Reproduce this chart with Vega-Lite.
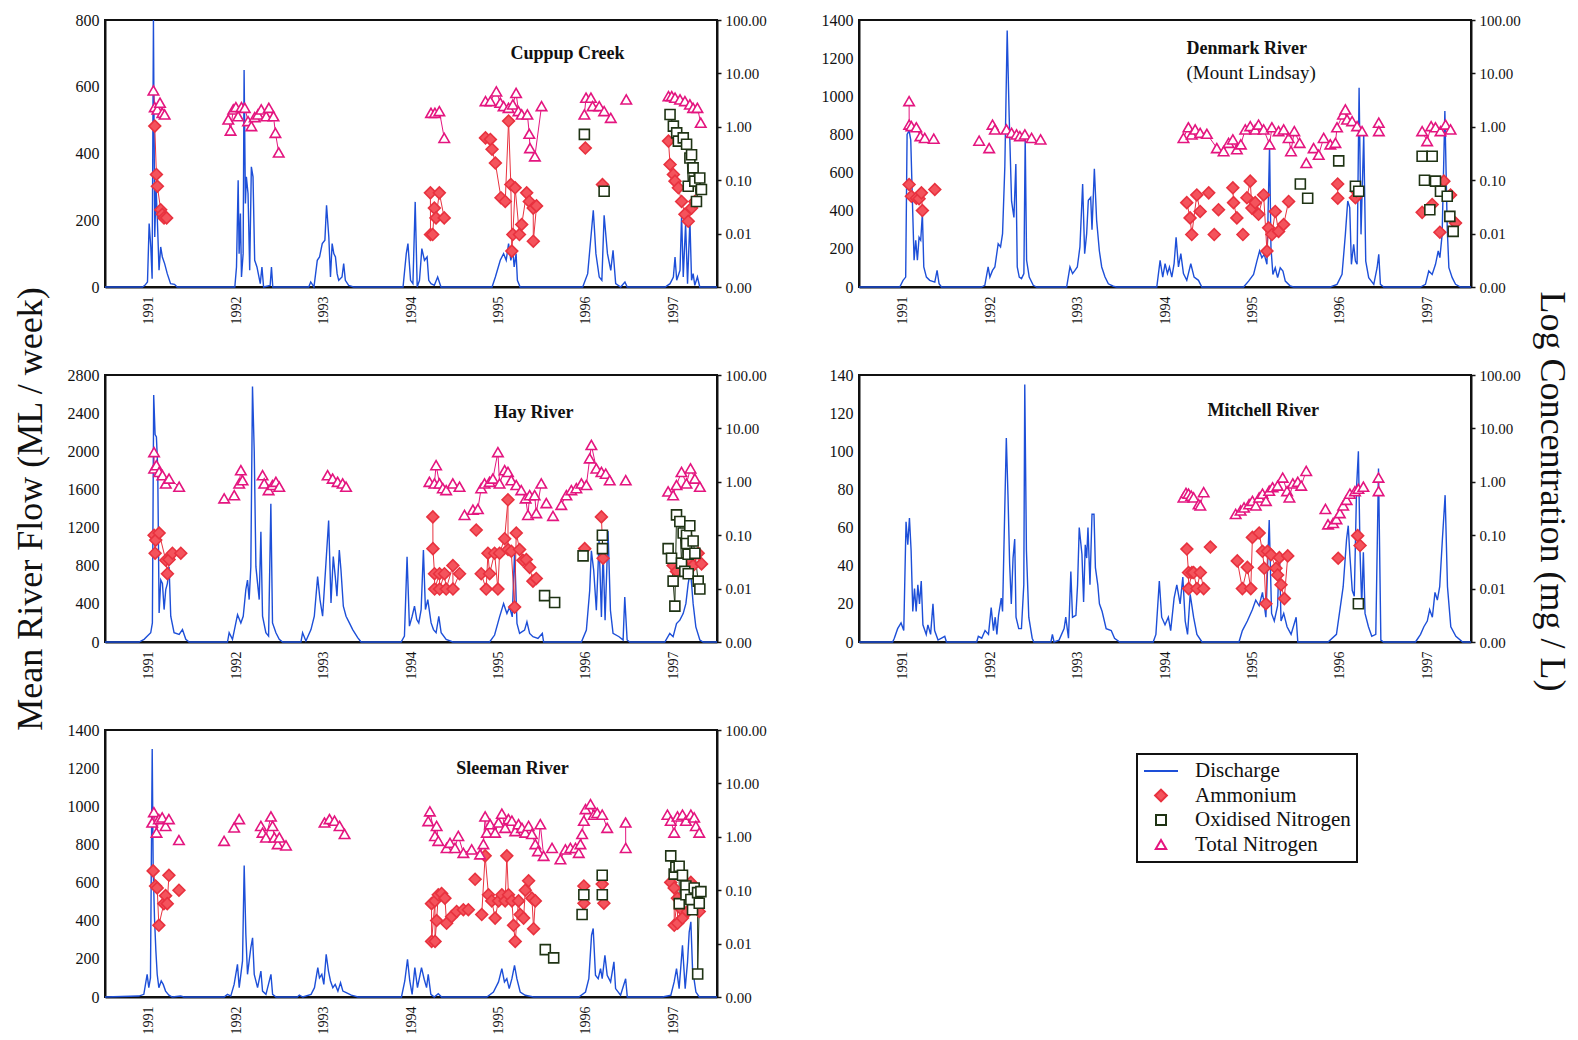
{
  "$schema": "https://vega.github.io/schema/vega-lite/v6.json",
  "background": "white",
  "padding": {"left": 10, "top": 11, "right": 0, "bottom": 0},
  "columns": 2,
  "bounds": "flush",
  "spacing": {"row": 88, "column": 142},
  "datasets": {
    "flowC": [
      {"t":1991,"q":0},{"t":1991.429,"q":0},{"t":1991.456,"q":5},{"t":1991.486,"q":15},{"t":1991.505,"q":190},{"t":1991.524,"q":120},{"t":1991.539,"q":25},{"t":1991.554,"q":800},{"t":1991.569,"q":150},{"t":1991.584,"q":300},{"t":1991.599,"q":200},{"t":1991.618,"q":50},{"t":1991.637,"q":120},{"t":1991.656,"q":90},{"t":1991.682,"q":70},{"t":1991.712,"q":40},{"t":1991.75,"q":10},{"t":1991.795,"q":8},{"t":1991.825,"q":0},
      {"t":1992.485,"q":0},{"t":1992.504,"q":60},{"t":1992.523,"q":320},{"t":1992.534,"q":100},{"t":1992.549,"q":220},{"t":1992.561,"q":30},{"t":1992.58,"q":100},{"t":1992.591,"q":650},{"t":1992.606,"q":250},{"t":1992.617,"q":330},{"t":1992.636,"q":280},{"t":1992.655,"q":50},{"t":1992.674,"q":360},{"t":1992.693,"q":330},{"t":1992.712,"q":80},{"t":1992.738,"q":60},{"t":1992.776,"q":10},{"t":1992.795,"q":60},{"t":1992.814,"q":0},{"t":1992.889,"q":5},{"t":1992.904,"q":60},{"t":1992.919,"q":0},
      {"t":1993.33,"q":0},{"t":1993.353,"q":15},{"t":1993.39,"q":0},{"t":1993.428,"q":80},{"t":1993.454,"q":90},{"t":1993.485,"q":130},{"t":1993.515,"q":140},{"t":1993.534,"q":245},{"t":1993.56,"q":150},{"t":1993.579,"q":30},{"t":1993.598,"q":130},{"t":1993.617,"q":100},{"t":1993.636,"q":90},{"t":1993.655,"q":40},{"t":1993.673,"q":20},{"t":1993.711,"q":30},{"t":1993.73,"q":70},{"t":1993.749,"q":20},{"t":1993.787,"q":5},{"t":1993.843,"q":0},
      {"t":1994.409,"q":0},{"t":1994.446,"q":100},{"t":1994.465,"q":130},{"t":1994.495,"q":20},{"t":1994.522,"q":10},{"t":1994.548,"q":255},{"t":1994.571,"q":0},{"t":1994.597,"q":20},{"t":1994.624,"q":115},{"t":1994.654,"q":80},{"t":1994.684,"q":90},{"t":1994.703,"q":20},{"t":1994.729,"q":10},{"t":1994.767,"q":5},{"t":1994.805,"q":30},{"t":1994.843,"q":0},
      {"t":1995.427,"q":0},{"t":1995.465,"q":30},{"t":1995.521,"q":80},{"t":1995.559,"q":100},{"t":1995.589,"q":80},{"t":1995.616,"q":130},{"t":1995.642,"q":80},{"t":1995.665,"q":110},{"t":1995.68,"q":60},{"t":1995.702,"q":100},{"t":1995.717,"q":20},{"t":1995.748,"q":0},
      {"t":1996.464,"q":0},{"t":1996.521,"q":40},{"t":1996.558,"q":150},{"t":1996.585,"q":230},{"t":1996.615,"q":100},{"t":1996.653,"q":30},{"t":1996.683,"q":20},{"t":1996.709,"q":215},{"t":1996.747,"q":100},{"t":1996.785,"q":50},{"t":1996.811,"q":110},{"t":1996.841,"q":10},{"t":1996.898,"q":0},{"t":1996.947,"q":15},{"t":1996.973,"q":0},
      {"t":1997.407,"q":0},{"t":1997.463,"q":10},{"t":1997.501,"q":30},{"t":1997.52,"q":90},{"t":1997.539,"q":20},{"t":1997.577,"q":50},{"t":1997.595,"q":215},{"t":1997.614,"q":30},{"t":1997.641,"q":190},{"t":1997.663,"q":10},{"t":1997.69,"q":200},{"t":1997.709,"q":20},{"t":1997.727,"q":40},{"t":1997.746,"q":5},{"t":1997.776,"q":30},{"t":1997.803,"q":0},{"t":1998,"q":0}
    ],
    "flowD": [
      {"t":1991,"q":0},{"t":1991.466,"q":0},{"t":1991.504,"q":35},{"t":1991.534,"q":52},{"t":1991.55,"q":800},{"t":1991.573,"q":820},{"t":1991.592,"q":770},{"t":1991.611,"q":450},{"t":1991.63,"q":140},{"t":1991.649,"q":245},{"t":1991.668,"q":140},{"t":1991.687,"q":260},{"t":1991.706,"q":245},{"t":1991.725,"q":385},{"t":1991.741,"q":105},{"t":1991.771,"q":52},{"t":1991.809,"q":35},{"t":1991.867,"q":26},{"t":1991.893,"q":87},{"t":1991.916,"q":17},{"t":1991.943,"q":0},
      {"t":1992.401,"q":0},{"t":1992.439,"q":9},{"t":1992.477,"q":105},{"t":1992.497,"q":52},{"t":1992.527,"q":87},{"t":1992.554,"q":105},{"t":1992.592,"q":227},{"t":1992.619,"q":210},{"t":1992.642,"q":280},{"t":1992.668,"q":630},{"t":1992.695,"q":1345},{"t":1992.718,"q":890},{"t":1992.745,"q":450},{"t":1992.772,"q":365},{"t":1992.794,"q":645},{"t":1992.81,"q":105},{"t":1992.833,"q":52},{"t":1992.859,"q":44},{"t":1992.886,"q":70},{"t":1992.901,"q":785},{"t":1992.917,"q":140},{"t":1992.947,"q":52},{"t":1992.993,"q":9},{"t":1993.031,"q":0},
      {"t":1993.375,"q":0},{"t":1993.413,"q":105},{"t":1993.443,"q":70},{"t":1993.47,"q":87},{"t":1993.497,"q":105},{"t":1993.527,"q":210},{"t":1993.558,"q":540},{"t":1993.581,"q":175},{"t":1993.604,"q":280},{"t":1993.623,"q":455},{"t":1993.65,"q":470},{"t":1993.665,"q":300},{"t":1993.692,"q":620},{"t":1993.718,"q":350},{"t":1993.749,"q":190},{"t":1993.776,"q":105},{"t":1993.814,"q":52},{"t":1993.852,"q":17},{"t":1993.909,"q":4},{"t":1993.947,"q":0},
      {"t":1994.406,"q":0},{"t":1994.444,"q":140},{"t":1994.474,"q":52},{"t":1994.501,"q":122},{"t":1994.528,"q":70},{"t":1994.551,"q":105},{"t":1994.578,"q":52},{"t":1994.604,"q":122},{"t":1994.627,"q":260},{"t":1994.654,"q":105},{"t":1994.681,"q":175},{"t":1994.711,"q":70},{"t":1994.749,"q":35},{"t":1994.795,"q":122},{"t":1994.833,"q":52},{"t":1994.883,"q":35},{"t":1994.921,"q":0},
      {"t":1995.399,"q":0},{"t":1995.456,"q":31},{"t":1995.513,"q":66},{"t":1995.551,"q":136},{"t":1995.582,"q":189},{"t":1995.608,"q":154},{"t":1995.635,"q":171},{"t":1995.666,"q":119},{"t":1995.696,"q":740},{"t":1995.712,"q":206},{"t":1995.734,"q":66},{"t":1995.761,"q":101},{"t":1995.788,"q":49},{"t":1995.818,"q":101},{"t":1995.849,"q":84},{"t":1995.876,"q":31},{"t":1995.933,"q":5},{"t":1995.971,"q":0},
      {"t":1996.391,"q":0},{"t":1996.468,"q":14},{"t":1996.525,"q":66},{"t":1996.563,"q":276},{"t":1996.59,"q":451},{"t":1996.613,"q":416},{"t":1996.632,"q":119},{"t":1996.658,"q":224},{"t":1996.678,"q":136},{"t":1996.697,"q":119},{"t":1996.72,"q":1045},{"t":1996.742,"q":276},{"t":1996.773,"q":800},{"t":1996.796,"q":136},{"t":1996.83,"q":49},{"t":1996.888,"q":14},{"t":1996.926,"q":101},{"t":1996.945,"q":171},{"t":1996.964,"q":14},{"t":1997.002,"q":0},
      {"t":1997.422,"q":0},{"t":1997.479,"q":14},{"t":1997.517,"q":84},{"t":1997.556,"q":66},{"t":1997.594,"q":119},{"t":1997.625,"q":189},{"t":1997.644,"q":154},{"t":1997.67,"q":276},{"t":1997.701,"q":923},{"t":1997.728,"q":311},{"t":1997.747,"q":101},{"t":1997.785,"q":49},{"t":1997.823,"q":14},{"t":1997.88,"q":0},{"t":1998,"q":0}
    ],
    "flowH": [
      {"t":1991,"q":0},{"t":1991.389,"q":0},{"t":1991.447,"q":28},{"t":1991.485,"q":62},{"t":1991.523,"q":97},{"t":1991.542,"q":200},{"t":1991.557,"q":2590},{"t":1991.573,"q":2175},{"t":1991.588,"q":2150},{"t":1991.603,"q":1830},{"t":1991.619,"q":305},{"t":1991.638,"q":650},{"t":1991.657,"q":615},{"t":1991.676,"q":340},{"t":1991.695,"q":550},{"t":1991.714,"q":615},{"t":1991.733,"q":790},{"t":1991.752,"q":270},{"t":1991.79,"q":97},{"t":1991.848,"q":80},{"t":1991.886,"q":130},{"t":1991.924,"q":28},{"t":1991.962,"q":0},
      {"t":1992.401,"q":0},{"t":1992.42,"q":97},{"t":1992.458,"q":28},{"t":1992.516,"q":287},{"t":1992.554,"q":200},{"t":1992.581,"q":270},{"t":1992.611,"q":550},{"t":1992.63,"q":650},{"t":1992.649,"q":445},{"t":1992.668,"q":790},{"t":1992.687,"q":2680},{"t":1992.707,"q":2000},{"t":1992.726,"q":790},{"t":1992.745,"q":615},{"t":1992.764,"q":445},{"t":1992.783,"q":1155},{"t":1992.802,"q":270},{"t":1992.84,"q":97},{"t":1992.871,"q":62},{"t":1992.897,"q":1450},{"t":1992.916,"q":200},{"t":1992.955,"q":97},{"t":1992.993,"q":28},{"t":1993.031,"q":0},
      {"t":1993.241,"q":0},{"t":1993.26,"q":97},{"t":1993.298,"q":10},{"t":1993.356,"q":130},{"t":1993.394,"q":270},{"t":1993.432,"q":685},{"t":1993.459,"q":445},{"t":1993.489,"q":270},{"t":1993.527,"q":825},{"t":1993.558,"q":1275},{"t":1993.585,"q":410},{"t":1993.611,"q":895},{"t":1993.634,"q":685},{"t":1993.653,"q":480},{"t":1993.68,"q":965},{"t":1993.699,"q":755},{"t":1993.726,"q":375},{"t":1993.757,"q":270},{"t":1993.795,"q":200},{"t":1993.833,"q":130},{"t":1993.89,"q":45},{"t":1993.929,"q":0},
      {"t":1994.387,"q":0},{"t":1994.425,"q":62},{"t":1994.455,"q":895},{"t":1994.482,"q":166},{"t":1994.513,"q":270},{"t":1994.54,"q":375},{"t":1994.566,"q":235},{"t":1994.589,"q":200},{"t":1994.616,"q":340},{"t":1994.642,"q":965},{"t":1994.665,"q":340},{"t":1994.692,"q":445},{"t":1994.73,"q":200},{"t":1994.757,"q":130},{"t":1994.787,"q":97},{"t":1994.818,"q":270},{"t":1994.845,"q":97},{"t":1994.902,"q":28},{"t":1994.978,"q":0},
      {"t":1995.399,"q":0},{"t":1995.456,"q":73},{"t":1995.513,"q":263},{"t":1995.559,"q":402},{"t":1995.597,"q":298},{"t":1995.628,"q":367},{"t":1995.658,"q":263},{"t":1995.685,"q":956},{"t":1995.712,"q":194},{"t":1995.742,"q":90},{"t":1995.799,"q":125},{"t":1995.826,"q":211},{"t":1995.857,"q":90},{"t":1995.895,"q":55},{"t":1995.952,"q":38},{"t":1996.002,"q":90},{"t":1996.017,"q":0},
      {"t":1996.449,"q":0},{"t":1996.506,"q":125},{"t":1996.544,"q":540},{"t":1996.563,"q":956},{"t":1996.59,"q":748},{"t":1996.62,"q":333},{"t":1996.651,"q":1060},{"t":1996.678,"q":263},{"t":1996.697,"q":956},{"t":1996.72,"q":229},{"t":1996.754,"q":1164},{"t":1996.781,"q":333},{"t":1996.811,"q":90},{"t":1996.88,"q":55},{"t":1996.926,"q":20},{"t":1996.945,"q":471},{"t":1996.972,"q":21},{"t":1997.002,"q":0},
      {"t":1997.403,"q":0},{"t":1997.46,"q":90},{"t":1997.498,"q":55},{"t":1997.537,"q":194},{"t":1997.575,"q":229},{"t":1997.613,"q":298},{"t":1997.644,"q":402},{"t":1997.67,"q":610},{"t":1997.697,"q":748},{"t":1997.727,"q":402},{"t":1997.758,"q":159},{"t":1997.804,"q":21},{"t":1997.842,"q":0},{"t":1998,"q":0}
    ],
    "flowM": [
      {"t":1991,"q":0},{"t":1991.385,"q":0},{"t":1991.404,"q":2},{"t":1991.442,"q":7},{"t":1991.481,"q":10},{"t":1991.512,"q":6},{"t":1991.538,"q":63},{"t":1991.558,"q":51},{"t":1991.577,"q":65},{"t":1991.596,"q":48},{"t":1991.615,"q":16},{"t":1991.635,"q":28},{"t":1991.654,"q":16},{"t":1991.673,"q":30},{"t":1991.692,"q":20},{"t":1991.712,"q":32},{"t":1991.731,"q":9},{"t":1991.769,"q":4},{"t":1991.788,"q":9},{"t":1991.819,"q":4},{"t":1991.846,"q":20},{"t":1991.865,"q":6},{"t":1991.904,"q":1},{"t":1991.981,"q":3},{"t":1992,"q":0},
      {"t":1992.346,"q":0},{"t":1992.365,"q":3},{"t":1992.404,"q":2},{"t":1992.442,"q":6},{"t":1992.481,"q":4},{"t":1992.512,"q":18},{"t":1992.538,"q":6},{"t":1992.558,"q":13},{"t":1992.577,"q":4},{"t":1992.596,"q":14},{"t":1992.627,"q":23},{"t":1992.642,"q":16},{"t":1992.665,"q":65},{"t":1992.685,"q":107},{"t":1992.704,"q":77},{"t":1992.723,"q":41},{"t":1992.742,"q":20},{"t":1992.762,"q":44},{"t":1992.781,"q":54},{"t":1992.796,"q":13},{"t":1992.827,"q":7},{"t":1992.858,"q":7},{"t":1992.885,"q":30},{"t":1992.896,"q":135},{"t":1992.915,"q":48},{"t":1992.942,"q":13},{"t":1992.981,"q":2},{"t":1993,"q":0},
      {"t":1993.195,"q":0},{"t":1993.212,"q":4},{"t":1993.231,"q":0},{"t":1993.288,"q":1},{"t":1993.346,"q":7},{"t":1993.365,"q":13},{"t":1993.396,"q":2},{"t":1993.423,"q":37},{"t":1993.442,"q":13},{"t":1993.481,"q":14},{"t":1993.5,"q":30},{"t":1993.519,"q":60},{"t":1993.55,"q":46},{"t":1993.569,"q":21},{"t":1993.588,"q":51},{"t":1993.604,"q":44},{"t":1993.619,"q":60},{"t":1993.642,"q":30},{"t":1993.665,"q":67},{"t":1993.688,"q":67},{"t":1993.704,"q":39},{"t":1993.731,"q":30},{"t":1993.75,"q":20},{"t":1993.781,"q":16},{"t":1993.827,"q":7},{"t":1993.885,"q":6},{"t":1993.923,"q":2},{"t":1993.981,"q":0},
      {"t":1994.365,"q":0},{"t":1994.396,"q":4},{"t":1994.435,"q":32},{"t":1994.462,"q":13},{"t":1994.5,"q":9},{"t":1994.538,"q":13},{"t":1994.565,"q":6},{"t":1994.604,"q":23},{"t":1994.635,"q":30},{"t":1994.673,"q":20},{"t":1994.704,"q":34},{"t":1994.731,"q":11},{"t":1994.758,"q":4},{"t":1994.788,"q":25},{"t":1994.827,"q":13},{"t":1994.865,"q":4},{"t":1994.923,"q":0},
      {"t":1995.346,"q":0},{"t":1995.385,"q":6},{"t":1995.442,"q":11},{"t":1995.5,"q":17},{"t":1995.538,"q":22},{"t":1995.577,"q":19},{"t":1995.615,"q":26},{"t":1995.654,"q":13},{"t":1995.692,"q":64},{"t":1995.719,"q":15},{"t":1995.75,"q":11},{"t":1995.788,"q":19},{"t":1995.808,"q":47},{"t":1995.827,"q":11},{"t":1995.858,"q":15},{"t":1995.896,"q":8},{"t":1995.942,"q":4},{"t":1996,"q":13},{"t":1996.019,"q":0},
      {"t":1996.365,"q":0},{"t":1996.461,"q":4},{"t":1996.538,"q":29},{"t":1996.577,"q":54},{"t":1996.596,"q":61},{"t":1996.615,"q":45},{"t":1996.642,"q":27},{"t":1996.665,"q":24},{"t":1996.692,"q":82},{"t":1996.712,"q":100},{"t":1996.731,"q":47},{"t":1996.75,"q":19},{"t":1996.769,"q":47},{"t":1996.788,"q":15},{"t":1996.827,"q":8},{"t":1996.865,"q":3},{"t":1996.911,"q":4},{"t":1996.942,"q":91},{"t":1996.969,"q":1},{"t":1997,"q":0},
      {"t":1997.365,"q":0},{"t":1997.423,"q":4},{"t":1997.461,"q":8},{"t":1997.5,"q":11},{"t":1997.527,"q":17},{"t":1997.558,"q":13},{"t":1997.588,"q":26},{"t":1997.615,"q":22},{"t":1997.642,"q":29},{"t":1997.673,"q":54},{"t":1997.704,"q":77},{"t":1997.731,"q":29},{"t":1997.769,"q":8},{"t":1997.827,"q":3},{"t":1997.904,"q":0},{"t":1998,"q":0}
    ],
    "flowS": [
      {"t":1991,"q":0},{"t":1991.387,"q":5},{"t":1991.444,"q":14},{"t":1991.482,"q":119},{"t":1991.501,"q":49},{"t":1991.52,"q":100},{"t":1991.54,"q":1300},{"t":1991.551,"q":680},{"t":1991.566,"q":416},{"t":1991.582,"q":241},{"t":1991.597,"q":119},{"t":1991.616,"q":49},{"t":1991.643,"q":84},{"t":1991.666,"q":66},{"t":1991.693,"q":31},{"t":1991.731,"q":10},{"t":1991.769,"q":0},{"t":1991.865,"q":5},{"t":1991.903,"q":0},
      {"t":1992.362,"q":0},{"t":1992.401,"q":14},{"t":1992.439,"q":5},{"t":1992.477,"q":66},{"t":1992.515,"q":171},{"t":1992.535,"q":49},{"t":1992.554,"q":119},{"t":1992.573,"q":189},{"t":1992.592,"q":690},{"t":1992.611,"q":329},{"t":1992.63,"q":119},{"t":1992.649,"q":189},{"t":1992.668,"q":259},{"t":1992.688,"q":310},{"t":1992.707,"q":119},{"t":1992.745,"q":49},{"t":1992.783,"q":136},{"t":1992.802,"q":31},{"t":1992.841,"q":14},{"t":1992.898,"q":119},{"t":1992.917,"q":14},{"t":1992.956,"q":0},
      {"t":1993.2,"q":0},{"t":1993.223,"q":10},{"t":1993.262,"q":0},{"t":1993.357,"q":14},{"t":1993.396,"q":49},{"t":1993.434,"q":154},{"t":1993.453,"q":100},{"t":1993.48,"q":119},{"t":1993.503,"q":66},{"t":1993.53,"q":224},{"t":1993.556,"q":136},{"t":1993.579,"q":84},{"t":1993.606,"q":49},{"t":1993.633,"q":66},{"t":1993.664,"q":31},{"t":1993.694,"q":75},{"t":1993.721,"q":31},{"t":1993.759,"q":23},{"t":1993.817,"q":10},{"t":1993.893,"q":0},
      {"t":1994.391,"q":0},{"t":1994.429,"q":84},{"t":1994.46,"q":198},{"t":1994.486,"q":84},{"t":1994.513,"q":14},{"t":1994.544,"q":154},{"t":1994.574,"q":49},{"t":1994.62,"q":154},{"t":1994.651,"q":93},{"t":1994.678,"q":49},{"t":1994.697,"q":119},{"t":1994.727,"q":14},{"t":1994.766,"q":0},{"t":1994.812,"q":17},{"t":1994.85,"q":0},
      {"t":1995.367,"q":0},{"t":1995.443,"q":26},{"t":1995.501,"q":79},{"t":1995.539,"q":149},{"t":1995.569,"q":79},{"t":1995.596,"q":96},{"t":1995.623,"q":44},{"t":1995.654,"q":96},{"t":1995.684,"q":166},{"t":1995.711,"q":96},{"t":1995.749,"q":26},{"t":1995.807,"q":9},{"t":1995.902,"q":0},
      {"t":1996.419,"q":0},{"t":1996.496,"q":26},{"t":1996.534,"q":96},{"t":1996.565,"q":324},{"t":1996.584,"q":359},{"t":1996.61,"q":114},{"t":1996.641,"q":96},{"t":1996.668,"q":149},{"t":1996.687,"q":96},{"t":1996.718,"q":219},{"t":1996.744,"q":114},{"t":1996.783,"q":79},{"t":1996.821,"q":184},{"t":1996.84,"q":44},{"t":1996.897,"q":9},{"t":1996.955,"q":96},{"t":1996.974,"q":0},
      {"t":1997.376,"q":0},{"t":1997.472,"q":9},{"t":1997.51,"q":79},{"t":1997.537,"q":149},{"t":1997.567,"q":44},{"t":1997.605,"q":271},{"t":1997.636,"q":44},{"t":1997.663,"q":184},{"t":1997.682,"q":341},{"t":1997.701,"q":394},{"t":1997.72,"q":149},{"t":1997.759,"q":26},{"t":1997.797,"q":0},{"t":1998,"q":0}
    ],
    "concC": [
      {"s":"Ammonium","t":1991.569,"c":1.03,"g":1991},{"s":"Ammonium","t":1991.588,"c":0.128,"g":1991},{"s":"Ammonium","t":1991.599,"c":0.077,"g":1991},{"s":"Ammonium","t":1991.637,"c":0.028,"g":1991},{"s":"Ammonium","t":1991.656,"c":0.023,"g":1991},{"s":"Ammonium","t":1991.675,"c":0.0197,"g":1991},{"s":"Ammonium","t":1991.705,"c":0.0197,"g":1991},
      {"s":"Ammonium","t":1994.722,"c":0.058,"g":1994},{"s":"Ammonium","t":1994.723,"c":0.0096,"g":1994},{"s":"Ammonium","t":1994.748,"c":0.0096,"g":1994},{"s":"Ammonium","t":1994.767,"c":0.03,"g":1994},{"s":"Ammonium","t":1994.786,"c":0.0197,"g":1994},{"s":"Ammonium","t":1994.824,"c":0.058,"g":1994},{"s":"Ammonium","t":1994.88,"c":0.0197,"g":1994},
      {"s":"Ammonium","t":1995.352,"c":0.62,"g":1995},{"s":"Ammonium","t":1995.408,"c":0.58,"g":1995},{"s":"Ammonium","t":1995.427,"c":0.38,"g":1995},{"s":"Ammonium","t":1995.465,"c":0.21,"g":1995},{"s":"Ammonium","t":1995.529,"c":0.047,"g":1995},{"s":"Ammonium","t":1995.578,"c":0.04,"g":1995},{"s":"Ammonium","t":1995.616,"c":1.28,"g":1995},{"s":"Ammonium","t":1995.642,"c":0.083,"g":1995},{"s":"Ammonium","t":1995.653,"c":0.0047,"g":1995},{"s":"Ammonium","t":1995.665,"c":0.0096,"g":1995},{"s":"Ammonium","t":1995.691,"c":0.072,"g":1995},{"s":"Ammonium","t":1995.74,"c":0.0096,"g":1995},{"s":"Ammonium","t":1995.766,"c":0.0148,"g":1995},{"s":"Ammonium","t":1995.823,"c":0.058,"g":1995},{"s":"Ammonium","t":1995.853,"c":0.04,"g":1995},{"s":"Ammonium","t":1995.898,"c":0.03,"g":1995},{"s":"Ammonium","t":1995.899,"c":0.0072,"g":1995},{"s":"Ammonium","t":1995.936,"c":0.033,"g":1995},
      {"s":"Ammonium","t":1996.494,"c":0.4},{"s":"Ammonium","t":1996.69,"c":0.083},
      {"s":"Ammonium","t":1997.445,"c":0.54,"g":1997},{"s":"Ammonium","t":1997.463,"c":0.197,"g":1997},{"s":"Ammonium","t":1997.501,"c":0.128,"g":1997},{"s":"Ammonium","t":1997.52,"c":0.096,"g":1997},{"s":"Ammonium","t":1997.558,"c":0.072,"g":1997},{"s":"Ammonium","t":1997.595,"c":0.04,"g":1997},{"s":"Ammonium","t":1997.633,"c":0.023,"g":1997},{"s":"Ammonium","t":1997.671,"c":0.017,"g":1997},{"s":"Ammonium","t":1997.709,"c":0.03,"g":1997},{"s":"Ammonium","t":1997.746,"c":0.04,"g":1997},
      {"s":"Oxidised Nitrogen","t":1996.483,"c":0.72},{"s":"Oxidised Nitrogen","t":1996.709,"c":0.062},
      {"s":"Oxidised Nitrogen","t":1997.463,"c":1.7,"g":1997},{"s":"Oxidised Nitrogen","t":1997.501,"c":1.03,"g":1997},{"s":"Oxidised Nitrogen","t":1997.539,"c":0.77,"g":1997},{"s":"Oxidised Nitrogen","t":1997.558,"c":0.54,"g":1997},{"s":"Oxidised Nitrogen","t":1997.614,"c":0.62,"g":1997},{"s":"Oxidised Nitrogen","t":1997.652,"c":0.47,"g":1997},{"s":"Oxidised Nitrogen","t":1997.671,"c":0.077,"g":1997},{"s":"Oxidised Nitrogen","t":1997.69,"c":0.26,"g":1997},{"s":"Oxidised Nitrogen","t":1997.709,"c":0.3,"g":1997},{"s":"Oxidised Nitrogen","t":1997.727,"c":0.17,"g":1997},{"s":"Oxidised Nitrogen","t":1997.746,"c":0.096,"g":1997},{"s":"Oxidised Nitrogen","t":1997.765,"c":0.04,"g":1997},{"s":"Oxidised Nitrogen","t":1997.803,"c":0.11,"g":1997},{"s":"Oxidised Nitrogen","t":1997.822,"c":0.067,"g":1997},
      {"s":"Total Nitrogen","t":1991.554,"c":4.8,"g":1991},{"s":"Total Nitrogen","t":1991.569,"c":2.34,"g":1991},{"s":"Total Nitrogen","t":1991.599,"c":2.11,"g":1991},{"s":"Total Nitrogen","t":1991.629,"c":2.82,"g":1991},{"s":"Total Nitrogen","t":1991.656,"c":1.83,"g":1991},{"s":"Total Nitrogen","t":1991.682,"c":1.7,"g":1991},
      {"s":"Total Nitrogen","t":1992.41,"c":1.37,"g":1992},{"s":"Total Nitrogen","t":1992.436,"c":0.85,"g":1992},{"s":"Total Nitrogen","t":1992.467,"c":2.11,"g":1992},{"s":"Total Nitrogen","t":1992.497,"c":2.34,"g":1992},{"s":"Total Nitrogen","t":1992.523,"c":1.58,"g":1992},{"s":"Total Nitrogen","t":1992.561,"c":2.34,"g":1992},{"s":"Total Nitrogen","t":1992.599,"c":2.27,"g":1992},{"s":"Total Nitrogen","t":1992.636,"c":1.28,"g":1992},{"s":"Total Nitrogen","t":1992.674,"c":1.03,"g":1992},{"s":"Total Nitrogen","t":1992.712,"c":1.52,"g":1992},{"s":"Total Nitrogen","t":1992.749,"c":1.7,"g":1992},{"s":"Total Nitrogen","t":1992.787,"c":2.11,"g":1992},{"s":"Total Nitrogen","t":1992.844,"c":1.58,"g":1992},{"s":"Total Nitrogen","t":1992.874,"c":2.27,"g":1992},{"s":"Total Nitrogen","t":1992.927,"c":1.58,"g":1992},{"s":"Total Nitrogen","t":1992.949,"c":0.77,"g":1992},{"s":"Total Nitrogen","t":1992.987,"c":0.33,"g":1992},
      {"s":"Total Nitrogen","t":1994.729,"c":1.83,"g":1994},{"s":"Total Nitrogen","t":1994.774,"c":1.83,"g":1994},{"s":"Total Nitrogen","t":1994.824,"c":1.97,"g":1994},{"s":"Total Nitrogen","t":1994.88,"c":0.62,"g":1994},
      {"s":"Total Nitrogen","t":1995.352,"c":3.03,"g":1995},{"s":"Total Nitrogen","t":1995.408,"c":3.03,"g":1995},{"s":"Total Nitrogen","t":1995.476,"c":4.6,"g":1995},{"s":"Total Nitrogen","t":1995.521,"c":2.82,"g":1995},{"s":"Total Nitrogen","t":1995.559,"c":2.44,"g":1995},{"s":"Total Nitrogen","t":1995.616,"c":2.27,"g":1995},{"s":"Total Nitrogen","t":1995.665,"c":2.62,"g":1995},{"s":"Total Nitrogen","t":1995.702,"c":4.3,"g":1995},{"s":"Total Nitrogen","t":1995.729,"c":1.97,"g":1995},{"s":"Total Nitrogen","t":1995.766,"c":1.7,"g":1995},{"s":"Total Nitrogen","t":1995.831,"c":1.7,"g":1995},{"s":"Total Nitrogen","t":1995.853,"c":0.74,"g":1995},{"s":"Total Nitrogen","t":1995.861,"c":0.4,"g":1995},{"s":"Total Nitrogen","t":1995.917,"c":0.28,"g":1995},{"s":"Total Nitrogen","t":1995.993,"c":2.44,"g":1995},
      {"s":"Total Nitrogen","t":1996.483,"c":1.7,"g":1996},{"s":"Total Nitrogen","t":1996.502,"c":3.5,"g":1996},{"s":"Total Nitrogen","t":1996.558,"c":3.5,"g":1996},{"s":"Total Nitrogen","t":1996.577,"c":2.44,"g":1996},{"s":"Total Nitrogen","t":1996.653,"c":2.44,"g":1996},{"s":"Total Nitrogen","t":1996.709,"c":1.97,"g":1996},{"s":"Total Nitrogen","t":1996.785,"c":1.47,"g":1996},{"s":"Total Nitrogen","t":1996.962,"c":3.25},
      {"s":"Total Nitrogen","t":1997.445,"c":3.76,"g":1997},{"s":"Total Nitrogen","t":1997.482,"c":3.76,"g":1997},{"s":"Total Nitrogen","t":1997.52,"c":3.5,"g":1997},{"s":"Total Nitrogen","t":1997.577,"c":3.25,"g":1997},{"s":"Total Nitrogen","t":1997.633,"c":3.03,"g":1997},{"s":"Total Nitrogen","t":1997.69,"c":2.62,"g":1997},{"s":"Total Nitrogen","t":1997.727,"c":2.27,"g":1997},{"s":"Total Nitrogen","t":1997.776,"c":2.27,"g":1997},{"s":"Total Nitrogen","t":1997.814,"c":1.19,"g":1997}
    ],
    "concD": [
      {"s":"Ammonium","t":1991.573,"c":0.083,"g":1991},{"s":"Ammonium","t":1991.599,"c":0.05,"g":1991},{"s":"Ammonium","t":1991.656,"c":0.046,"g":1991},{"s":"Ammonium","t":1991.687,"c":0.045,"g":1991},{"s":"Ammonium","t":1991.714,"c":0.058,"g":1991},{"s":"Ammonium","t":1991.725,"c":0.027,"g":1991},{"s":"Ammonium","t":1991.867,"c":0.067},
      {"s":"Ammonium","t":1994.749,"c":0.038,"g":1994},{"s":"Ammonium","t":1994.787,"c":0.0197,"g":1994},{"s":"Ammonium","t":1994.806,"c":0.0096,"g":1994},{"s":"Ammonium","t":1994.864,"c":0.053,"g":1994},{"s":"Ammonium","t":1994.902,"c":0.026,"g":1994},
      {"s":"Ammonium","t":1995.0,"c":0.058},{"s":"Ammonium","t":1995.063,"c":0.0096},{"s":"Ammonium","t":1995.112,"c":0.028},
      {"s":"Ammonium","t":1995.276,"c":0.072,"g":1995},{"s":"Ammonium","t":1995.284,"c":0.038,"g":1995},{"s":"Ammonium","t":1995.322,"c":0.0197,"g":1995},{"s":"Ammonium","t":1995.391,"c":0.0096},
      {"s":"Ammonium","t":1995.437,"c":0.047,"g":19955},{"s":"Ammonium","t":1995.475,"c":0.096,"g":19955},{"s":"Ammonium","t":1995.494,"c":0.03,"g":19955},{"s":"Ammonium","t":1995.532,"c":0.038,"g":19955},{"s":"Ammonium","t":1995.57,"c":0.023,"g":19955},{"s":"Ammonium","t":1995.628,"c":0.053,"g":19955},{"s":"Ammonium","t":1995.666,"c":0.0047,"g":19955},{"s":"Ammonium","t":1995.685,"c":0.0128,"g":19955},{"s":"Ammonium","t":1995.723,"c":0.0096,"g":19955},{"s":"Ammonium","t":1995.761,"c":0.026,"g":19955},{"s":"Ammonium","t":1995.799,"c":0.011,"g":19955},{"s":"Ammonium","t":1995.857,"c":0.0148,"g":19955},{"s":"Ammonium","t":1995.914,"c":0.04,"g":19955},
      {"s":"Ammonium","t":1996.475,"c":0.085,"g":1996},{"s":"Ammonium","t":1996.476,"c":0.046,"g":1996},{"s":"Ammonium","t":1996.678,"c":0.047,"g":19965},{"s":"Ammonium","t":1996.689,"c":0.062,"g":19965},
      {"s":"Ammonium","t":1997.441,"c":0.025},{"s":"Ammonium","t":1997.556,"c":0.035},{"s":"Ammonium","t":1997.644,"c":0.0106},{"s":"Ammonium","t":1997.69,"c":0.096},{"s":"Ammonium","t":1997.766,"c":0.053},{"s":"Ammonium","t":1997.823,"c":0.0158},
      {"s":"Oxidised Nitrogen","t":1996.048,"c":0.085},{"s":"Oxidised Nitrogen","t":1996.132,"c":0.046},{"s":"Oxidised Nitrogen","t":1996.487,"c":0.23},{"s":"Oxidised Nitrogen","t":1996.678,"c":0.077},{"s":"Oxidised Nitrogen","t":1996.716,"c":0.062},
      {"s":"Oxidised Nitrogen","t":1997.441,"c":0.28},{"s":"Oxidised Nitrogen","t":1997.468,"c":0.1},{"s":"Oxidised Nitrogen","t":1997.529,"c":0.028},{"s":"Oxidised Nitrogen","t":1997.556,"c":0.28},{"s":"Oxidised Nitrogen","t":1997.594,"c":0.096},{"s":"Oxidised Nitrogen","t":1997.651,"c":0.062},{"s":"Oxidised Nitrogen","t":1997.728,"c":0.05},{"s":"Oxidised Nitrogen","t":1997.758,"c":0.021},{"s":"Oxidised Nitrogen","t":1997.796,"c":0.011},
      {"s":"Total Nitrogen","t":1991.573,"c":3.03,"g":1991},{"s":"Total Nitrogen","t":1991.574,"c":1.1,"g":1991},{"s":"Total Nitrogen","t":1991.599,"c":1.03,"g":1991},{"s":"Total Nitrogen","t":1991.656,"c":0.98,"g":1991},{"s":"Total Nitrogen","t":1991.702,"c":0.67,"g":1991},{"s":"Total Nitrogen","t":1991.752,"c":0.62,"g":1991},{"s":"Total Nitrogen","t":1991.855,"c":0.6},
      {"s":"Total Nitrogen","t":1992.374,"c":0.55},{"s":"Total Nitrogen","t":1992.489,"c":0.4},{"s":"Total Nitrogen","t":1992.527,"c":1.1,"g":1992},{"s":"Total Nitrogen","t":1992.554,"c":0.89,"g":1992},{"s":"Total Nitrogen","t":1992.687,"c":0.89,"g":19925},{"s":"Total Nitrogen","t":1992.745,"c":0.77,"g":19925},{"s":"Total Nitrogen","t":1992.802,"c":0.72,"g":19925},{"s":"Total Nitrogen","t":1992.84,"c":0.67,"g":19925},{"s":"Total Nitrogen","t":1992.897,"c":0.72,"g":19925},{"s":"Total Nitrogen","t":1992.974,"c":0.62},{"s":"Total Nitrogen","t":1993.077,"c":0.58},
      {"s":"Total Nitrogen","t":1994.711,"c":0.62,"g":1994},{"s":"Total Nitrogen","t":1994.768,"c":0.98,"g":1994},{"s":"Total Nitrogen","t":1994.806,"c":0.72,"g":1994},{"s":"Total Nitrogen","t":1994.845,"c":0.89,"g":1994},{"s":"Total Nitrogen","t":1994.902,"c":0.77,"g":1994},{"s":"Total Nitrogen","t":1994.979,"c":0.74,"g":1994},{"s":"Total Nitrogen","t":1995.093,"c":0.4,"g":1994},{"s":"Total Nitrogen","t":1995.17,"c":0.35,"g":1994},{"s":"Total Nitrogen","t":1995.227,"c":0.5,"g":1994},{"s":"Total Nitrogen","t":1995.276,"c":0.58,"g":1994},{"s":"Total Nitrogen","t":1995.322,"c":0.38,"g":1994},{"s":"Total Nitrogen","t":1995.368,"c":0.47,"g":1994},{"s":"Total Nitrogen","t":1995.418,"c":0.89,"g":1994},{"s":"Total Nitrogen","t":1995.475,"c":1.03,"g":1994},{"s":"Total Nitrogen","t":1995.532,"c":0.89,"g":1994},{"s":"Total Nitrogen","t":1995.57,"c":1.1,"g":1994},{"s":"Total Nitrogen","t":1995.628,"c":0.89,"g":1994},{"s":"Total Nitrogen","t":1995.696,"c":0.47,"g":1994},{"s":"Total Nitrogen","t":1995.723,"c":0.98,"g":1994},{"s":"Total Nitrogen","t":1995.799,"c":0.83,"g":1994},{"s":"Total Nitrogen","t":1995.857,"c":0.89,"g":1994},{"s":"Total Nitrogen","t":1995.914,"c":0.62,"g":1994},{"s":"Total Nitrogen","t":1995.941,"c":0.35,"g":1994},{"s":"Total Nitrogen","t":1995.979,"c":0.83,"g":1994},{"s":"Total Nitrogen","t":1996.04,"c":0.5,"g":1994},
      {"s":"Total Nitrogen","t":1996.116,"c":0.21},{"s":"Total Nitrogen","t":1996.2,"c":0.4,"g":1996},{"s":"Total Nitrogen","t":1996.258,"c":0.3,"g":1996},{"s":"Total Nitrogen","t":1996.315,"c":0.62,"g":1996},{"s":"Total Nitrogen","t":1996.391,"c":0.47,"g":1996},{"s":"Total Nitrogen","t":1996.449,"c":0.5,"g":1996},{"s":"Total Nitrogen","t":1996.468,"c":0.98,"g":1996},{"s":"Total Nitrogen","t":1996.536,"c":1.7,"g":1996},{"s":"Total Nitrogen","t":1996.563,"c":2.11,"g":1996},{"s":"Total Nitrogen","t":1996.582,"c":1.37,"g":1996},{"s":"Total Nitrogen","t":1996.64,"c":1.28,"g":1996},{"s":"Total Nitrogen","t":1996.697,"c":1.03,"g":1996},{"s":"Total Nitrogen","t":1996.754,"c":0.83,"g":1996},{"s":"Total Nitrogen","t":1996.945,"c":1.19,"g":19965},{"s":"Total Nitrogen","t":1996.946,"c":0.83,"g":19965},
      {"s":"Total Nitrogen","t":1997.441,"c":0.83,"g":1997},{"s":"Total Nitrogen","t":1997.498,"c":0.54,"g":1997},{"s":"Total Nitrogen","t":1997.544,"c":1.03,"g":1997},{"s":"Total Nitrogen","t":1997.594,"c":0.98,"g":1997},{"s":"Total Nitrogen","t":1997.651,"c":0.83,"g":1997},{"s":"Total Nitrogen","t":1997.709,"c":1.1,"g":1997},{"s":"Total Nitrogen","t":1997.766,"c":0.89,"g":1997}
    ],
    "concH": [
      {"s":"Ammonium","t":1991.561,"c":0.1,"g":1991},{"s":"Ammonium","t":1991.573,"c":0.046,"g":1991},{"s":"Ammonium","t":1991.58,"c":0.081,"g":1991},{"s":"Ammonium","t":1991.619,"c":0.11,"g":1991},{"s":"Ammonium","t":1991.695,"c":0.034,"g":1991},{"s":"Ammonium","t":1991.714,"c":0.019,"g":1991},{"s":"Ammonium","t":1991.733,"c":0.035,"g":1991},{"s":"Ammonium","t":1991.771,"c":0.046,"g":1991},{"s":"Ammonium","t":1991.867,"c":0.046,"g":1991},
      {"s":"Ammonium","t":1994.75,"c":0.22,"g":1994},{"s":"Ammonium","t":1994.751,"c":0.056,"g":1994},{"s":"Ammonium","t":1994.769,"c":0.019,"g":1994},{"s":"Ammonium","t":1994.77,"c":0.0098,"g":1994},{"s":"Ammonium","t":1994.826,"c":0.019,"g":1994},{"s":"Ammonium","t":1994.827,"c":0.0098,"g":1994},{"s":"Ammonium","t":1994.883,"c":0.019,"g":1994},{"s":"Ammonium","t":1994.902,"c":0.0098,"g":1994},{"s":"Ammonium","t":1994.979,"c":0.027,"g":1994},{"s":"Ammonium","t":1994.98,"c":0.0098,"g":1994},{"s":"Ammonium","t":1995.055,"c":0.019,"g":1994},
      {"s":"Ammonium","t":1995.246,"c":0.125},
      {"s":"Ammonium","t":1995.303,"c":0.019,"g":1995},{"s":"Ammonium","t":1995.36,"c":0.0098,"g":1995},{"s":"Ammonium","t":1995.38,"c":0.046,"g":1995},{"s":"Ammonium","t":1995.399,"c":0.019,"g":1995},{"s":"Ammonium","t":1995.456,"c":0.046,"g":1995},{"s":"Ammonium","t":1995.494,"c":0.0098,"g":1995},{"s":"Ammonium","t":1995.513,"c":0.046,"g":1995},{"s":"Ammonium","t":1995.571,"c":0.086,"g":1995},{"s":"Ammonium","t":1995.609,"c":0.46,"g":1995},{"s":"Ammonium","t":1995.61,"c":0.054,"g":1995},{"s":"Ammonium","t":1995.647,"c":0.05,"g":1995},{"s":"Ammonium","t":1995.685,"c":0.0045,"g":1995},{"s":"Ammonium","t":1995.704,"c":0.11,"g":1995},{"s":"Ammonium","t":1995.742,"c":0.054,"g":1995},{"s":"Ammonium","t":1995.78,"c":0.034,"g":1995},{"s":"Ammonium","t":1995.819,"c":0.035,"g":1995},{"s":"Ammonium","t":1995.857,"c":0.025,"g":1995},{"s":"Ammonium","t":1995.895,"c":0.0138,"g":1995},{"s":"Ammonium","t":1995.933,"c":0.0155,"g":1995},
      {"s":"Ammonium","t":1996.487,"c":0.056},{"s":"Ammonium","t":1996.678,"c":0.22,"g":1996},{"s":"Ammonium","t":1996.697,"c":0.037,"g":1996},
      {"s":"Ammonium","t":1997.498,"c":0.027,"g":1997},{"s":"Ammonium","t":1997.537,"c":0.021,"g":1997},{"s":"Ammonium","t":1997.613,"c":0.029,"g":1997},{"s":"Ammonium","t":1997.689,"c":0.035,"g":1997},{"s":"Ammonium","t":1997.727,"c":0.027,"g":1997},{"s":"Ammonium","t":1997.785,"c":0.046,"g":1997},{"s":"Ammonium","t":1997.823,"c":0.029,"g":1997},
      {"s":"Oxidised Nitrogen","t":1996.028,"c":0.0074,"g":1995},{"s":"Oxidised Nitrogen","t":1996.143,"c":0.0055,"g":1995},
      {"s":"Oxidised Nitrogen","t":1996.468,"c":0.041},{"s":"Oxidised Nitrogen","t":1996.689,"c":0.1,"g":1996},{"s":"Oxidised Nitrogen","t":1996.69,"c":0.056,"g":1996},
      {"s":"Oxidised Nitrogen","t":1997.441,"c":0.056,"g":1997},{"s":"Oxidised Nitrogen","t":1997.48,"c":0.037,"g":1997},{"s":"Oxidised Nitrogen","t":1997.498,"c":0.0138,"g":1997},{"s":"Oxidised Nitrogen","t":1997.518,"c":0.0047,"g":1997},{"s":"Oxidised Nitrogen","t":1997.537,"c":0.24,"g":1997},{"s":"Oxidised Nitrogen","t":1997.575,"c":0.18,"g":1997},{"s":"Oxidised Nitrogen","t":1997.594,"c":0.03,"g":1997},{"s":"Oxidised Nitrogen","t":1997.613,"c":0.11,"g":1997},{"s":"Oxidised Nitrogen","t":1997.632,"c":0.021,"g":1997},{"s":"Oxidised Nitrogen","t":1997.651,"c":0.1,"g":1997},{"s":"Oxidised Nitrogen","t":1997.652,"c":0.07,"g":1997},{"s":"Oxidised Nitrogen","t":1997.67,"c":0.044,"g":1997},{"s":"Oxidised Nitrogen","t":1997.671,"c":0.019,"g":1997},{"s":"Oxidised Nitrogen","t":1997.689,"c":0.15,"g":1997},{"s":"Oxidised Nitrogen","t":1997.727,"c":0.078,"g":1997},{"s":"Oxidised Nitrogen","t":1997.747,"c":0.046,"g":1997},{"s":"Oxidised Nitrogen","t":1997.785,"c":0.0138,"g":1997},{"s":"Oxidised Nitrogen","t":1997.804,"c":0.0098,"g":1997},
      {"s":"Total Nitrogen","t":1991.561,"c":3.6,"g":1991},{"s":"Total Nitrogen","t":1991.562,"c":1.78,"g":1991},{"s":"Total Nitrogen","t":1991.588,"c":2.05,"g":1991},{"s":"Total Nitrogen","t":1991.619,"c":1.53,"g":1991},{"s":"Total Nitrogen","t":1991.657,"c":1.33,"g":1991},{"s":"Total Nitrogen","t":1991.695,"c":0.93,"g":1991},{"s":"Total Nitrogen","t":1991.733,"c":1.15,"g":1991},{"s":"Total Nitrogen","t":1991.848,"c":0.81,"g":1991},
      {"s":"Total Nitrogen","t":1992.363,"c":0.49},{"s":"Total Nitrogen","t":1992.478,"c":0.56},{"s":"Total Nitrogen","t":1992.535,"c":0.93,"g":1992},{"s":"Total Nitrogen","t":1992.554,"c":1.65,"g":1992},{"s":"Total Nitrogen","t":1992.573,"c":1.07,"g":1992},{"s":"Total Nitrogen","t":1992.802,"c":1.33,"g":19925},{"s":"Total Nitrogen","t":1992.821,"c":0.93,"g":19925},{"s":"Total Nitrogen","t":1992.871,"c":0.7,"g":19925},{"s":"Total Nitrogen","t":1992.916,"c":0.87,"g":19925},{"s":"Total Nitrogen","t":1992.955,"c":1.0,"g":19925},{"s":"Total Nitrogen","t":1992.993,"c":0.81,"g":19925},
      {"s":"Total Nitrogen","t":1993.546,"c":1.33,"g":1993},{"s":"Total Nitrogen","t":1993.604,"c":1.15,"g":1993},{"s":"Total Nitrogen","t":1993.661,"c":1.0,"g":1993},{"s":"Total Nitrogen","t":1993.718,"c":0.93,"g":1993},{"s":"Total Nitrogen","t":1993.757,"c":0.81,"g":1993},
      {"s":"Total Nitrogen","t":1994.711,"c":1.0,"g":1994},{"s":"Total Nitrogen","t":1994.768,"c":0.93,"g":1994},{"s":"Total Nitrogen","t":1994.787,"c":2.05,"g":1994},{"s":"Total Nitrogen","t":1994.826,"c":0.93,"g":1994},{"s":"Total Nitrogen","t":1994.864,"c":0.76,"g":1994},{"s":"Total Nitrogen","t":1994.902,"c":0.7,"g":1994},{"s":"Total Nitrogen","t":1994.978,"c":0.93,"g":1994},{"s":"Total Nitrogen","t":1995.055,"c":0.81,"g":1994},
      {"s":"Total Nitrogen","t":1995.112,"c":0.24},{"s":"Total Nitrogen","t":1995.208,"c":0.3,"g":1995},{"s":"Total Nitrogen","t":1995.265,"c":0.31,"g":1995},{"s":"Total Nitrogen","t":1995.303,"c":0.76,"g":1995},{"s":"Total Nitrogen","t":1995.341,"c":0.93,"g":1995},{"s":"Total Nitrogen","t":1995.399,"c":1.0,"g":1995},{"s":"Total Nitrogen","t":1995.437,"c":1.15,"g":1995},{"s":"Total Nitrogen","t":1995.494,"c":3.6,"g":1995},{"s":"Total Nitrogen","t":1995.513,"c":0.93,"g":1995},{"s":"Total Nitrogen","t":1995.571,"c":1.65,"g":1995},{"s":"Total Nitrogen","t":1995.609,"c":1.53,"g":1995},{"s":"Total Nitrogen","t":1995.647,"c":1.07,"g":1995},{"s":"Total Nitrogen","t":1995.704,"c":0.87,"g":1995},{"s":"Total Nitrogen","t":1995.761,"c":0.7,"g":1995},{"s":"Total Nitrogen","t":1995.811,"c":0.49,"g":1995},{"s":"Total Nitrogen","t":1995.838,"c":0.24,"g":1995},{"s":"Total Nitrogen","t":1995.857,"c":0.56,"g":1995},{"s":"Total Nitrogen","t":1995.914,"c":0.56,"g":1995},{"s":"Total Nitrogen","t":1995.933,"c":0.26,"g":1995},{"s":"Total Nitrogen","t":1995.99,"c":0.93,"g":1995},{"s":"Total Nitrogen","t":1996.048,"c":0.4},{"s":"Total Nitrogen","t":1996.124,"c":0.23},
      {"s":"Total Nitrogen","t":1996.219,"c":0.37,"g":1996},{"s":"Total Nitrogen","t":1996.277,"c":0.56,"g":1996},{"s":"Total Nitrogen","t":1996.334,"c":0.7,"g":1996},{"s":"Total Nitrogen","t":1996.391,"c":0.76,"g":1996},{"s":"Total Nitrogen","t":1996.449,"c":0.93,"g":1996},{"s":"Total Nitrogen","t":1996.506,"c":0.87,"g":1996},{"s":"Total Nitrogen","t":1996.544,"c":2.75,"g":1996},{"s":"Total Nitrogen","t":1996.563,"c":4.9,"g":1996},{"s":"Total Nitrogen","t":1996.62,"c":1.78,"g":1996},{"s":"Total Nitrogen","t":1996.678,"c":1.53,"g":1996},{"s":"Total Nitrogen","t":1996.727,"c":1.42,"g":1996},{"s":"Total Nitrogen","t":1996.773,"c":1.07,"g":1996},{"s":"Total Nitrogen","t":1996.956,"c":1.07},
      {"s":"Total Nitrogen","t":1997.441,"c":0.66,"g":1997},{"s":"Total Nitrogen","t":1997.498,"c":0.56,"g":1997},{"s":"Total Nitrogen","t":1997.537,"c":0.87,"g":1997},{"s":"Total Nitrogen","t":1997.594,"c":1.53,"g":1997},{"s":"Total Nitrogen","t":1997.651,"c":0.93,"g":1997},{"s":"Total Nitrogen","t":1997.697,"c":1.78,"g":1997},{"s":"Total Nitrogen","t":1997.747,"c":1.15,"g":1997},{"s":"Total Nitrogen","t":1997.804,"c":0.81,"g":1997}
    ],
    "concM": [
      {"s":"Ammonium","t":1994.75,"c":0.055,"g":1994},{"s":"Ammonium","t":1994.769,"c":0.02,"g":1994},{"s":"Ammonium","t":1994.77,"c":0.01,"g":1994},{"s":"Ammonium","t":1994.808,"c":0.02,"g":1994},{"s":"Ammonium","t":1994.827,"c":0.02,"g":1994},{"s":"Ammonium","t":1994.865,"c":0.01,"g":1994},{"s":"Ammonium","t":1994.904,"c":0.02,"g":1994},{"s":"Ammonium","t":1994.942,"c":0.01,"g":1994},
      {"s":"Ammonium","t":1995.019,"c":0.06},
      {"s":"Ammonium","t":1995.327,"c":0.033,"g":1995},{"s":"Ammonium","t":1995.385,"c":0.01,"g":1995},{"s":"Ammonium","t":1995.442,"c":0.025,"g":1995},{"s":"Ammonium","t":1995.481,"c":0.01,"g":1995},{"s":"Ammonium","t":1995.5,"c":0.091,"g":1995},{"s":"Ammonium","t":1995.577,"c":0.11,"g":1995},{"s":"Ammonium","t":1995.615,"c":0.05,"g":1995},{"s":"Ammonium","t":1995.635,"c":0.024,"g":1995},{"s":"Ammonium","t":1995.654,"c":0.0052,"g":1995},{"s":"Ammonium","t":1995.673,"c":0.05,"g":1995},{"s":"Ammonium","t":1995.712,"c":0.043,"g":1995},{"s":"Ammonium","t":1995.769,"c":0.024,"g":1995},{"s":"Ammonium","t":1995.788,"c":0.018,"g":1995},{"s":"Ammonium","t":1995.808,"c":0.038,"g":1995},{"s":"Ammonium","t":1995.827,"c":0.0118,"g":1995},{"s":"Ammonium","t":1995.865,"c":0.0065,"g":1995},{"s":"Ammonium","t":1995.904,"c":0.041,"g":1995},
      {"s":"Ammonium","t":1996.481,"c":0.037},{"s":"Ammonium","t":1996.704,"c":0.098,"g":1996},{"s":"Ammonium","t":1996.731,"c":0.064,"g":1996},
      {"s":"Oxidised Nitrogen","t":1996.712,"c":0.0052},
      {"s":"Total Nitrogen","t":1994.711,"c":0.51,"g":1994},{"s":"Total Nitrogen","t":1994.74,"c":0.62,"g":1994},{"s":"Total Nitrogen","t":1994.769,"c":0.6,"g":1994},{"s":"Total Nitrogen","t":1994.8,"c":0.55,"g":1994},{"s":"Total Nitrogen","t":1994.827,"c":0.51,"g":1994},{"s":"Total Nitrogen","t":1994.884,"c":0.38,"g":1994},{"s":"Total Nitrogen","t":1994.904,"c":0.36,"g":1994},{"s":"Total Nitrogen","t":1994.942,"c":0.64,"g":1994},
      {"s":"Total Nitrogen","t":1995.308,"c":0.25,"g":1995},{"s":"Total Nitrogen","t":1995.365,"c":0.29,"g":1995},{"s":"Total Nitrogen","t":1995.404,"c":0.33,"g":1995},{"s":"Total Nitrogen","t":1995.462,"c":0.38,"g":1995},{"s":"Total Nitrogen","t":1995.5,"c":0.44,"g":1995},{"s":"Total Nitrogen","t":1995.538,"c":0.36,"g":1995},{"s":"Total Nitrogen","t":1995.577,"c":0.51,"g":1995},{"s":"Total Nitrogen","t":1995.615,"c":0.6,"g":1995},{"s":"Total Nitrogen","t":1995.654,"c":0.44,"g":1995},{"s":"Total Nitrogen","t":1995.692,"c":0.68,"g":1995},{"s":"Total Nitrogen","t":1995.731,"c":0.79,"g":1995},{"s":"Total Nitrogen","t":1995.788,"c":0.85,"g":1995},{"s":"Total Nitrogen","t":1995.846,"c":1.2,"g":1995},{"s":"Total Nitrogen","t":1995.896,"c":0.67,"g":1995},{"s":"Total Nitrogen","t":1995.923,"c":0.51,"g":1995},{"s":"Total Nitrogen","t":1995.962,"c":0.93,"g":1995},{"s":"Total Nitrogen","t":1996.019,"c":1.0,"g":1995},{"s":"Total Nitrogen","t":1996.058,"c":0.85,"g":1995},{"s":"Total Nitrogen","t":1996.115,"c":1.6,"g":1995},
      {"s":"Total Nitrogen","t":1996.335,"c":0.31},{"s":"Total Nitrogen","t":1996.365,"c":0.16,"g":1996},{"s":"Total Nitrogen","t":1996.423,"c":0.17,"g":1996},{"s":"Total Nitrogen","t":1996.461,"c":0.2,"g":1996},{"s":"Total Nitrogen","t":1996.5,"c":0.26,"g":1996},{"s":"Total Nitrogen","t":1996.538,"c":0.36,"g":1996},{"s":"Total Nitrogen","t":1996.577,"c":0.46,"g":1996},{"s":"Total Nitrogen","t":1996.615,"c":0.6,"g":1996},{"s":"Total Nitrogen","t":1996.673,"c":0.67,"g":1996},{"s":"Total Nitrogen","t":1996.712,"c":0.74,"g":1996},{"s":"Total Nitrogen","t":1996.769,"c":0.81,"g":1996},{"s":"Total Nitrogen","t":1996.942,"c":1.2,"g":19965},{"s":"Total Nitrogen","t":1996.943,"c":0.67,"g":19965}
    ],
    "concS": [
      {"s":"Ammonium","t":1991.551,"c":0.23,"g":1991},{"s":"Ammonium","t":1991.578,"c":0.12,"g":1991},{"s":"Ammonium","t":1991.597,"c":0.11,"g":1991},{"s":"Ammonium","t":1991.616,"c":0.022,"g":1991},{"s":"Ammonium","t":1991.673,"c":0.056,"g":1991},{"s":"Ammonium","t":1991.693,"c":0.079,"g":1991},{"s":"Ammonium","t":1991.712,"c":0.056,"g":1991},{"s":"Ammonium","t":1991.731,"c":0.19,"g":1991},{"s":"Ammonium","t":1991.846,"c":0.1},
      {"s":"Ammonium","t":1994.735,"c":0.056,"g":1994},{"s":"Ammonium","t":1994.736,"c":0.011,"g":1994},{"s":"Ammonium","t":1994.774,"c":0.063,"g":1994},{"s":"Ammonium","t":1994.775,"c":0.011,"g":1994},{"s":"Ammonium","t":1994.793,"c":0.027,"g":1994},{"s":"Ammonium","t":1994.812,"c":0.082,"g":1994},{"s":"Ammonium","t":1994.85,"c":0.087,"g":1994},{"s":"Ammonium","t":1994.888,"c":0.071,"g":1994},{"s":"Ammonium","t":1994.907,"c":0.024,"g":1994},{"s":"Ammonium","t":1994.965,"c":0.032,"g":1994},{"s":"Ammonium","t":1995.022,"c":0.04,"g":1994},{"s":"Ammonium","t":1995.099,"c":0.043,"g":1994},{"s":"Ammonium","t":1995.156,"c":0.043,"g":1994},
      {"s":"Ammonium","t":1995.233,"c":0.16},
      {"s":"Ammonium","t":1995.309,"c":0.035,"g":1995},{"s":"Ammonium","t":1995.348,"c":0.44,"g":1995},{"s":"Ammonium","t":1995.386,"c":0.082,"g":1995},{"s":"Ammonium","t":1995.424,"c":0.063,"g":1995},{"s":"Ammonium","t":1995.462,"c":0.03,"g":1995},{"s":"Ammonium","t":1995.501,"c":0.063,"g":1995},{"s":"Ammonium","t":1995.539,"c":0.082,"g":1995},{"s":"Ammonium","t":1995.577,"c":0.063,"g":1995},{"s":"Ammonium","t":1995.596,"c":0.44,"g":1995},{"s":"Ammonium","t":1995.615,"c":0.082,"g":1995},{"s":"Ammonium","t":1995.654,"c":0.063,"g":1995},{"s":"Ammonium","t":1995.673,"c":0.022,"g":1995},{"s":"Ammonium","t":1995.692,"c":0.011,"g":1995},{"s":"Ammonium","t":1995.73,"c":0.063,"g":1995},{"s":"Ammonium","t":1995.749,"c":0.035,"g":1995},{"s":"Ammonium","t":1995.788,"c":0.03,"g":1995},{"s":"Ammonium","t":1995.807,"c":0.1,"g":1995},{"s":"Ammonium","t":1995.845,"c":0.15,"g":1995},{"s":"Ammonium","t":1995.883,"c":0.071,"g":1995},{"s":"Ammonium","t":1995.902,"c":0.019,"g":1995},{"s":"Ammonium","t":1995.922,"c":0.063,"g":1995},
      {"s":"Ammonium","t":1996.477,"c":0.12,"g":1996},{"s":"Ammonium","t":1996.478,"c":0.057,"g":1996},{"s":"Ammonium","t":1996.687,"c":0.13,"g":19965},{"s":"Ammonium","t":1996.706,"c":0.057,"g":19965},
      {"s":"Ammonium","t":1997.471,"c":0.14,"g":1997},{"s":"Ammonium","t":1997.51,"c":0.11,"g":1997},{"s":"Ammonium","t":1997.511,"c":0.022,"g":1997},{"s":"Ammonium","t":1997.548,"c":0.071,"g":1997},{"s":"Ammonium","t":1997.549,"c":0.024,"g":1997},{"s":"Ammonium","t":1997.586,"c":0.045,"g":1997},{"s":"Ammonium","t":1997.605,"c":0.03,"g":1997},{"s":"Ammonium","t":1997.663,"c":0.04,"g":1997},{"s":"Ammonium","t":1997.701,"c":0.14,"g":1997},{"s":"Ammonium","t":1997.739,"c":0.11,"g":1997},{"s":"Ammonium","t":1997.797,"c":0.04,"g":1997},
      {"s":"Oxidised Nitrogen","t":1996.036,"c":0.0077,"g":1995},{"s":"Oxidised Nitrogen","t":1996.132,"c":0.0054,"g":1995},
      {"s":"Oxidised Nitrogen","t":1996.457,"c":0.035,"g":1996},{"s":"Oxidised Nitrogen","t":1996.477,"c":0.082,"g":1996},{"s":"Oxidised Nitrogen","t":1996.687,"c":0.19,"g":19965},{"s":"Oxidised Nitrogen","t":1996.688,"c":0.082,"g":19965},
      {"s":"Oxidised Nitrogen","t":1997.471,"c":0.44,"g":1997},{"s":"Oxidised Nitrogen","t":1997.51,"c":0.2,"g":1997},{"s":"Oxidised Nitrogen","t":1997.529,"c":0.27,"g":1997},{"s":"Oxidised Nitrogen","t":1997.567,"c":0.28,"g":1997},{"s":"Oxidised Nitrogen","t":1997.568,"c":0.056,"g":1997},{"s":"Oxidised Nitrogen","t":1997.605,"c":0.19,"g":1997},{"s":"Oxidised Nitrogen","t":1997.644,"c":0.12,"g":1997},{"s":"Oxidised Nitrogen","t":1997.645,"c":0.082,"g":1997},{"s":"Oxidised Nitrogen","t":1997.701,"c":0.067,"g":1997},{"s":"Oxidised Nitrogen","t":1997.72,"c":0.043,"g":1997},{"s":"Oxidised Nitrogen","t":1997.739,"c":0.11,"g":1997},{"s":"Oxidised Nitrogen","t":1997.778,"c":0.09,"g":1997},{"s":"Oxidised Nitrogen","t":1997.779,"c":0.0027,"g":1997},{"s":"Oxidised Nitrogen","t":1997.797,"c":0.057,"g":1997},{"s":"Oxidised Nitrogen","t":1997.816,"c":0.094,"g":1997},
      {"s":"Total Nitrogen","t":1991.54,"c":1.85,"g":1991},{"s":"Total Nitrogen","t":1991.559,"c":2.9,"g":1991},{"s":"Total Nitrogen","t":1991.589,"c":1.2,"g":1991},{"s":"Total Nitrogen","t":1991.616,"c":2.15,"g":1991},{"s":"Total Nitrogen","t":1991.654,"c":2.3,"g":1991},{"s":"Total Nitrogen","t":1991.693,"c":1.6,"g":1991},{"s":"Total Nitrogen","t":1991.731,"c":2.15,"g":1991},{"s":"Total Nitrogen","t":1991.846,"c":0.87},
      {"s":"Total Nitrogen","t":1992.362,"c":0.84},{"s":"Total Nitrogen","t":1992.477,"c":1.5,"g":1992},{"s":"Total Nitrogen","t":1992.535,"c":2.15,"g":1992},{"s":"Total Nitrogen","t":1992.783,"c":1.6,"g":19925},{"s":"Total Nitrogen","t":1992.802,"c":1.2,"g":19925},{"s":"Total Nitrogen","t":1992.841,"c":0.97,"g":19925},{"s":"Total Nitrogen","t":1992.898,"c":2.4,"g":19925},{"s":"Total Nitrogen","t":1992.917,"c":1.6,"g":19925},{"s":"Total Nitrogen","t":1992.937,"c":0.97,"g":19925},{"s":"Total Nitrogen","t":1992.975,"c":0.73,"g":19925},{"s":"Total Nitrogen","t":1992.994,"c":0.97,"g":19925},{"s":"Total Nitrogen","t":1993.07,"c":0.69},
      {"s":"Total Nitrogen","t":1993.511,"c":1.85,"g":1993},{"s":"Total Nitrogen","t":1993.568,"c":2.15,"g":1993},{"s":"Total Nitrogen","t":1993.625,"c":2.0,"g":1993},{"s":"Total Nitrogen","t":1993.683,"c":1.6,"g":1993},{"s":"Total Nitrogen","t":1993.74,"c":1.13,"g":1993},
      {"s":"Total Nitrogen","t":1994.697,"c":1.97,"g":1994},{"s":"Total Nitrogen","t":1994.716,"c":3.0,"g":1994},{"s":"Total Nitrogen","t":1994.774,"c":1.04,"g":1994},{"s":"Total Nitrogen","t":1994.793,"c":1.6,"g":1994},{"s":"Total Nitrogen","t":1994.812,"c":0.84,"g":1994},{"s":"Total Nitrogen","t":1994.907,"c":0.62,"g":1994},{"s":"Total Nitrogen","t":1994.946,"c":0.77,"g":1994},{"s":"Total Nitrogen","t":1995.003,"c":0.62,"g":1994},{"s":"Total Nitrogen","t":1995.041,"c":1.04,"g":1994},{"s":"Total Nitrogen","t":1995.099,"c":0.5,"g":1994},{"s":"Total Nitrogen","t":1995.194,"c":0.58,"g":1994},{"s":"Total Nitrogen","t":1995.29,"c":0.47,"g":1994},{"s":"Total Nitrogen","t":1995.328,"c":0.73,"g":1994},{"s":"Total Nitrogen","t":1995.348,"c":2.4,"g":1994},{"s":"Total Nitrogen","t":1995.367,"c":1.2,"g":1994},{"s":"Total Nitrogen","t":1995.405,"c":1.72,"g":1994},{"s":"Total Nitrogen","t":1995.462,"c":1.2,"g":1994},{"s":"Total Nitrogen","t":1995.501,"c":1.85,"g":1994},{"s":"Total Nitrogen","t":1995.539,"c":2.7,"g":1994},{"s":"Total Nitrogen","t":1995.577,"c":1.47,"g":1994},{"s":"Total Nitrogen","t":1995.615,"c":2.15,"g":1994},{"s":"Total Nitrogen","t":1995.654,"c":2.0,"g":1994},{"s":"Total Nitrogen","t":1995.692,"c":1.28,"g":1994},{"s":"Total Nitrogen","t":1995.73,"c":1.72,"g":1994},{"s":"Total Nitrogen","t":1995.769,"c":1.47,"g":1994},{"s":"Total Nitrogen","t":1995.807,"c":1.2,"g":1994},{"s":"Total Nitrogen","t":1995.845,"c":1.6,"g":1994},{"s":"Total Nitrogen","t":1995.883,"c":1.13,"g":1994},{"s":"Total Nitrogen","t":1995.922,"c":0.73,"g":1994},{"s":"Total Nitrogen","t":1995.952,"c":0.54,"g":1994},{"s":"Total Nitrogen","t":1995.979,"c":1.72,"g":1994},{"s":"Total Nitrogen","t":1996.017,"c":0.44,"g":1994},{"s":"Total Nitrogen","t":1996.113,"c":0.62},
      {"s":"Total Nitrogen","t":1996.209,"c":0.38,"g":1996},{"s":"Total Nitrogen","t":1996.266,"c":0.58,"g":1996},{"s":"Total Nitrogen","t":1996.323,"c":0.62,"g":1996},{"s":"Total Nitrogen","t":1996.381,"c":0.62,"g":1996},{"s":"Total Nitrogen","t":1996.419,"c":0.5,"g":1996},{"s":"Total Nitrogen","t":1996.438,"c":0.73,"g":1996},{"s":"Total Nitrogen","t":1996.457,"c":1.13,"g":1996},{"s":"Total Nitrogen","t":1996.477,"c":2.0,"g":1996},{"s":"Total Nitrogen","t":1996.496,"c":3.3,"g":1996},{"s":"Total Nitrogen","t":1996.553,"c":4.1,"g":1996},{"s":"Total Nitrogen","t":1996.591,"c":2.6,"g":1996},{"s":"Total Nitrogen","t":1996.63,"c":2.8,"g":1996},{"s":"Total Nitrogen","t":1996.687,"c":2.6,"g":1996},{"s":"Total Nitrogen","t":1996.744,"c":1.47,"g":1996},{"s":"Total Nitrogen","t":1996.955,"c":1.85,"g":19965},{"s":"Total Nitrogen","t":1996.956,"c":0.62,"g":19965},
      {"s":"Total Nitrogen","t":1997.433,"c":2.6,"g":1997},{"s":"Total Nitrogen","t":1997.471,"c":2.0,"g":1997},{"s":"Total Nitrogen","t":1997.51,"c":1.2,"g":1997},{"s":"Total Nitrogen","t":1997.548,"c":2.4,"g":1997},{"s":"Total Nitrogen","t":1997.605,"c":2.6,"g":1997},{"s":"Total Nitrogen","t":1997.644,"c":2.0,"g":1997},{"s":"Total Nitrogen","t":1997.701,"c":2.6,"g":1997},{"s":"Total Nitrogen","t":1997.739,"c":2.3,"g":1997},{"s":"Total Nitrogen","t":1997.758,"c":1.6,"g":1997},{"s":"Total Nitrogen","t":1997.797,"c":1.2,"g":1997}
    ]
  },
  "concat": [
    {
      "width": 612, "height": 267,
      "layer": [
        {
          "data": {"name": "flowC"},
          "mark": {"type": "line", "strokeWidth": 1.4},
          "encoding": {
            "x": {"field": "t", "type": "quantitative", "scale": {"domain": [1991, 1998], "nice": false, "zero": false}, "axis": {"values": [1991.5, 1992.5, 1993.5, 1994.5, 1995.5, 1996.5, 1997.5], "labelExpr": "'' + floor(datum.value)", "title": null}},
            "y": {"field": "q", "type": "quantitative", "scale": {"domain": [0, 800], "nice": false}, "axis": {"values": [0, 200, 400, 600, 800], "format": "d", "labelOverlap": false, "title": null}},
            "stroke": {"datum": "Discharge", "scale": {"domain": ["Discharge", "Ammonium", "Oxidised Nitrogen", "Total Nitrogen"], "range": ["#1d4fd8", "#e8323f", "#1f3314", "#e4157f"]}, "legend": {"title": null}}
          }
        },
        {
          "data": {"name": "concC"},
          "encoding": {
            "x": {"field": "t", "type": "quantitative"},
            "y": {"field": "c", "type": "quantitative", "scale": {"type": "log", "domain": [0.001, 100]}, "axis": {"orient": "right", "values": [0.001, 0.01, 0.1, 1, 10, 100], "format": ".2f", "title": null}}
          },
          "layer": [
            {"transform": [{"filter": "isValid(datum.g)"}], "mark": {"type": "line", "strokeWidth": 1}, "encoding": {"stroke": {"field": "s", "type": "nominal", "scale": {"domain": ["Discharge", "Ammonium", "Oxidised Nitrogen", "Total Nitrogen"], "range": ["#1d4fd8", "#e8323f", "#1f3314", "#e4157f"]}, "legend": {"title": null}}, "detail": {"field": "g"}}},
            {"mark": {"type": "point", "filled": true, "opacity": 1, "strokeWidth": 1.6},
             "encoding": {
               "fill": {"field": "s", "type": "nominal", "scale": {"domain": ["Discharge", "Ammonium", "Oxidised Nitrogen", "Total Nitrogen"], "range": ["#1d4fd8", "#f4535c", "#ffffff", "#ffffff"]}, "legend": {"title": null}},
               "stroke": {"field": "s", "type": "nominal", "scale": {"domain": ["Discharge", "Ammonium", "Oxidised Nitrogen", "Total Nitrogen"], "range": ["#1d4fd8", "#e8323f", "#1f3314", "#e4157f"]}, "legend": {"title": null}},
               "shape": {"field": "s", "type": "nominal", "scale": {"domain": ["Discharge", "Ammonium", "Oxidised Nitrogen", "Total Nitrogen"], "range": ["stroke", "diamond", "square", "triangle-up"]}, "legend": {"title": null, "orient": "none", "legendX": 1032, "legendY": 734}},
               "size": {"field": "s", "type": "nominal", "scale": {"type": "ordinal", "domain": ["Discharge", "Ammonium", "Oxidised Nitrogen", "Total Nitrogen"], "range": [1156, 140, 100, 110]}, "legend": {"title": null}}
             }}
          ]
        },
        {"data": {"values": [{"n": "Cuppup Creek"}]}, "mark": {"type": "text", "fontSize": 18, "fontWeight": "bold", "baseline": "middle", "fill": "#111"}, "encoding": {"x": {"datum": 1996.29, "type": "quantitative"}, "y": {"datum": 0.873, "type": "quantitative", "scale": {"domain": [0, 1], "nice": false}, "axis": null}, "text": {"field": "n", "type": "nominal"}}}
      ],
      "resolve": {"scale": {"y": "independent"}}
    },
    {
      "width": 612, "height": 267,
      "layer": [
        {
          "data": {"name": "flowD"},
          "mark": {"type": "line", "strokeWidth": 1.4},
          "encoding": {
            "x": {"field": "t", "type": "quantitative", "scale": {"domain": [1991, 1998], "nice": false, "zero": false}, "axis": {"values": [1991.5, 1992.5, 1993.5, 1994.5, 1995.5, 1996.5, 1997.5], "labelExpr": "'' + floor(datum.value)", "title": null}},
            "y": {"field": "q", "type": "quantitative", "scale": {"domain": [0, 1400], "nice": false}, "axis": {"values": [0, 200, 400, 600, 800, 1000, 1200, 1400], "format": "d", "labelOverlap": false, "title": null}},
            "stroke": {"datum": "Discharge", "scale": {"domain": ["Discharge", "Ammonium", "Oxidised Nitrogen", "Total Nitrogen"], "range": ["#1d4fd8", "#e8323f", "#1f3314", "#e4157f"]}, "legend": {"title": null}}
          }
        },
        {
          "data": {"name": "concD"},
          "encoding": {
            "x": {"field": "t", "type": "quantitative"},
            "y": {"field": "c", "type": "quantitative", "scale": {"type": "log", "domain": [0.001, 100]}, "axis": {"orient": "right", "values": [0.001, 0.01, 0.1, 1, 10, 100], "format": ".2f", "title": null}}
          },
          "layer": [
            {"transform": [{"filter": "isValid(datum.g)"}], "mark": {"type": "line", "strokeWidth": 1}, "encoding": {"stroke": {"field": "s", "type": "nominal", "scale": {"domain": ["Discharge", "Ammonium", "Oxidised Nitrogen", "Total Nitrogen"], "range": ["#1d4fd8", "#e8323f", "#1f3314", "#e4157f"]}, "legend": {"title": null}}, "detail": {"field": "g"}}},
            {"mark": {"type": "point", "filled": true, "opacity": 1, "strokeWidth": 1.6},
             "encoding": {
               "fill": {"field": "s", "type": "nominal", "scale": {"domain": ["Discharge", "Ammonium", "Oxidised Nitrogen", "Total Nitrogen"], "range": ["#1d4fd8", "#f4535c", "#ffffff", "#ffffff"]}, "legend": {"title": null}},
               "stroke": {"field": "s", "type": "nominal", "scale": {"domain": ["Discharge", "Ammonium", "Oxidised Nitrogen", "Total Nitrogen"], "range": ["#1d4fd8", "#e8323f", "#1f3314", "#e4157f"]}, "legend": {"title": null}},
               "shape": {"field": "s", "type": "nominal", "scale": {"domain": ["Discharge", "Ammonium", "Oxidised Nitrogen", "Total Nitrogen"], "range": ["stroke", "diamond", "square", "triangle-up"]}, "legend": {"title": null}},
               "size": {"field": "s", "type": "nominal", "scale": {"type": "ordinal", "domain": ["Discharge", "Ammonium", "Oxidised Nitrogen", "Total Nitrogen"], "range": [1156, 140, 100, 110]}, "legend": {"title": null}}
             }}
          ]
        },
        {"data": {"values": [{"n": "Denmark River"}]}, "mark": {"type": "text", "fontSize": 18, "fontWeight": "bold", "align": "left", "baseline": "middle", "fill": "#111"}, "encoding": {"x": {"datum": 1994.746, "type": "quantitative"}, "y": {"datum": 0.891, "type": "quantitative", "scale": {"domain": [0, 1], "nice": false}, "axis": null}, "text": {"field": "n", "type": "nominal"}}},
        {"data": {"values": [{"n": "(Mount Lindsay)"}]}, "mark": {"type": "text", "fontSize": 19, "align": "left", "baseline": "middle", "fill": "#111"}, "encoding": {"x": {"datum": 1994.746, "type": "quantitative"}, "y": {"datum": 0.801, "type": "quantitative", "scale": {"domain": [0, 1], "nice": false}, "axis": null}, "text": {"field": "n", "type": "nominal"}}}
      ],
      "resolve": {"scale": {"y": "independent"}}
    },
    {
      "width": 612, "height": 267,
      "layer": [
        {
          "data": {"name": "flowH"},
          "mark": {"type": "line", "strokeWidth": 1.4},
          "encoding": {
            "x": {"field": "t", "type": "quantitative", "scale": {"domain": [1991, 1998], "nice": false, "zero": false}, "axis": {"values": [1991.5, 1992.5, 1993.5, 1994.5, 1995.5, 1996.5, 1997.5], "labelExpr": "'' + floor(datum.value)", "title": null}},
            "y": {"field": "q", "type": "quantitative", "scale": {"domain": [0, 2800], "nice": false}, "axis": {"values": [0, 400, 800, 1200, 1600, 2000, 2400, 2800], "format": "d", "labelOverlap": false, "title": "Mean River Flow (ML / week)"}},
            "stroke": {"datum": "Discharge", "scale": {"domain": ["Discharge", "Ammonium", "Oxidised Nitrogen", "Total Nitrogen"], "range": ["#1d4fd8", "#e8323f", "#1f3314", "#e4157f"]}, "legend": {"title": null}}
          }
        },
        {
          "data": {"name": "concH"},
          "encoding": {
            "x": {"field": "t", "type": "quantitative"},
            "y": {"field": "c", "type": "quantitative", "scale": {"type": "log", "domain": [0.001, 100]}, "axis": {"orient": "right", "values": [0.001, 0.01, 0.1, 1, 10, 100], "format": ".2f", "title": null}}
          },
          "layer": [
            {"transform": [{"filter": "isValid(datum.g)"}], "mark": {"type": "line", "strokeWidth": 1}, "encoding": {"stroke": {"field": "s", "type": "nominal", "scale": {"domain": ["Discharge", "Ammonium", "Oxidised Nitrogen", "Total Nitrogen"], "range": ["#1d4fd8", "#e8323f", "#1f3314", "#e4157f"]}, "legend": {"title": null}}, "detail": {"field": "g"}}},
            {"mark": {"type": "point", "filled": true, "opacity": 1, "strokeWidth": 1.6},
             "encoding": {
               "fill": {"field": "s", "type": "nominal", "scale": {"domain": ["Discharge", "Ammonium", "Oxidised Nitrogen", "Total Nitrogen"], "range": ["#1d4fd8", "#f4535c", "#ffffff", "#ffffff"]}, "legend": {"title": null}},
               "stroke": {"field": "s", "type": "nominal", "scale": {"domain": ["Discharge", "Ammonium", "Oxidised Nitrogen", "Total Nitrogen"], "range": ["#1d4fd8", "#e8323f", "#1f3314", "#e4157f"]}, "legend": {"title": null}},
               "shape": {"field": "s", "type": "nominal", "scale": {"domain": ["Discharge", "Ammonium", "Oxidised Nitrogen", "Total Nitrogen"], "range": ["stroke", "diamond", "square", "triangle-up"]}, "legend": {"title": null}},
               "size": {"field": "s", "type": "nominal", "scale": {"type": "ordinal", "domain": ["Discharge", "Ammonium", "Oxidised Nitrogen", "Total Nitrogen"], "range": [1156, 140, 100, 110]}, "legend": {"title": null}}
             }}
          ]
        },
        {"data": {"values": [{"n": "Hay River"}]}, "mark": {"type": "text", "fontSize": 18, "fontWeight": "bold", "baseline": "middle", "fill": "#111"}, "encoding": {"x": {"datum": 1995.903, "type": "quantitative"}, "y": {"datum": 0.858, "type": "quantitative", "scale": {"domain": [0, 1], "nice": false}, "axis": null}, "text": {"field": "n", "type": "nominal"}}}
      ],
      "resolve": {"scale": {"y": "independent"}}
    },
    {
      "width": 612, "height": 267,
      "layer": [
        {
          "data": {"name": "flowM"},
          "mark": {"type": "line", "strokeWidth": 1.4},
          "encoding": {
            "x": {"field": "t", "type": "quantitative", "scale": {"domain": [1991, 1998], "nice": false, "zero": false}, "axis": {"values": [1991.5, 1992.5, 1993.5, 1994.5, 1995.5, 1996.5, 1997.5], "labelExpr": "'' + floor(datum.value)", "title": null}},
            "y": {"field": "q", "type": "quantitative", "scale": {"domain": [0, 140], "nice": false}, "axis": {"values": [0, 20, 40, 60, 80, 100, 120, 140], "format": "d", "labelOverlap": false, "title": null}},
            "stroke": {"datum": "Discharge", "scale": {"domain": ["Discharge", "Ammonium", "Oxidised Nitrogen", "Total Nitrogen"], "range": ["#1d4fd8", "#e8323f", "#1f3314", "#e4157f"]}, "legend": {"title": null}}
          }
        },
        {
          "data": {"name": "concM"},
          "encoding": {
            "x": {"field": "t", "type": "quantitative"},
            "y": {"field": "c", "type": "quantitative", "scale": {"type": "log", "domain": [0.001, 100]}, "axis": {"orient": "right", "values": [0.001, 0.01, 0.1, 1, 10, 100], "format": ".2f", "title": "Log Concentration (mg / L)", "titleY": 116, "titlePadding": 12}}
          },
          "layer": [
            {"transform": [{"filter": "isValid(datum.g)"}], "mark": {"type": "line", "strokeWidth": 1}, "encoding": {"stroke": {"field": "s", "type": "nominal", "scale": {"domain": ["Discharge", "Ammonium", "Oxidised Nitrogen", "Total Nitrogen"], "range": ["#1d4fd8", "#e8323f", "#1f3314", "#e4157f"]}, "legend": {"title": null}}, "detail": {"field": "g"}}},
            {"mark": {"type": "point", "filled": true, "opacity": 1, "strokeWidth": 1.6},
             "encoding": {
               "fill": {"field": "s", "type": "nominal", "scale": {"domain": ["Discharge", "Ammonium", "Oxidised Nitrogen", "Total Nitrogen"], "range": ["#1d4fd8", "#f4535c", "#ffffff", "#ffffff"]}, "legend": {"title": null}},
               "stroke": {"field": "s", "type": "nominal", "scale": {"domain": ["Discharge", "Ammonium", "Oxidised Nitrogen", "Total Nitrogen"], "range": ["#1d4fd8", "#e8323f", "#1f3314", "#e4157f"]}, "legend": {"title": null}},
               "shape": {"field": "s", "type": "nominal", "scale": {"domain": ["Discharge", "Ammonium", "Oxidised Nitrogen", "Total Nitrogen"], "range": ["stroke", "diamond", "square", "triangle-up"]}, "legend": {"title": null}},
               "size": {"field": "s", "type": "nominal", "scale": {"type": "ordinal", "domain": ["Discharge", "Ammonium", "Oxidised Nitrogen", "Total Nitrogen"], "range": [1156, 140, 100, 110]}, "legend": {"title": null}}
             }}
          ]
        },
        {"data": {"values": [{"n": "Mitchell River"}]}, "mark": {"type": "text", "fontSize": 18, "fontWeight": "bold", "baseline": "middle", "fill": "#111"}, "encoding": {"x": {"datum": 1995.625, "type": "quantitative"}, "y": {"datum": 0.866, "type": "quantitative", "scale": {"domain": [0, 1], "nice": false}, "axis": null}, "text": {"field": "n", "type": "nominal"}}}
      ],
      "resolve": {"scale": {"y": "independent"}}
    },
    {
      "width": 612, "height": 267,
      "layer": [
        {
          "data": {"name": "flowS"},
          "mark": {"type": "line", "strokeWidth": 1.4},
          "encoding": {
            "x": {"field": "t", "type": "quantitative", "scale": {"domain": [1991, 1998], "nice": false, "zero": false}, "axis": {"values": [1991.5, 1992.5, 1993.5, 1994.5, 1995.5, 1996.5, 1997.5], "labelExpr": "'' + floor(datum.value)", "title": null}},
            "y": {"field": "q", "type": "quantitative", "scale": {"domain": [0, 1400], "nice": false}, "axis": {"values": [0, 200, 400, 600, 800, 1000, 1200, 1400], "format": "d", "labelOverlap": false, "title": null}},
            "stroke": {"datum": "Discharge", "scale": {"domain": ["Discharge", "Ammonium", "Oxidised Nitrogen", "Total Nitrogen"], "range": ["#1d4fd8", "#e8323f", "#1f3314", "#e4157f"]}, "legend": {"title": null}}
          }
        },
        {
          "data": {"name": "concS"},
          "encoding": {
            "x": {"field": "t", "type": "quantitative"},
            "y": {"field": "c", "type": "quantitative", "scale": {"type": "log", "domain": [0.001, 100]}, "axis": {"orient": "right", "values": [0.001, 0.01, 0.1, 1, 10, 100], "format": ".2f", "title": null}}
          },
          "layer": [
            {"transform": [{"filter": "isValid(datum.g)"}], "mark": {"type": "line", "strokeWidth": 1}, "encoding": {"stroke": {"field": "s", "type": "nominal", "scale": {"domain": ["Discharge", "Ammonium", "Oxidised Nitrogen", "Total Nitrogen"], "range": ["#1d4fd8", "#e8323f", "#1f3314", "#e4157f"]}, "legend": {"title": null}}, "detail": {"field": "g"}}},
            {"mark": {"type": "point", "filled": true, "opacity": 1, "strokeWidth": 1.6},
             "encoding": {
               "fill": {"field": "s", "type": "nominal", "scale": {"domain": ["Discharge", "Ammonium", "Oxidised Nitrogen", "Total Nitrogen"], "range": ["#1d4fd8", "#f4535c", "#ffffff", "#ffffff"]}, "legend": {"title": null}},
               "stroke": {"field": "s", "type": "nominal", "scale": {"domain": ["Discharge", "Ammonium", "Oxidised Nitrogen", "Total Nitrogen"], "range": ["#1d4fd8", "#e8323f", "#1f3314", "#e4157f"]}, "legend": {"title": null}},
               "shape": {"field": "s", "type": "nominal", "scale": {"domain": ["Discharge", "Ammonium", "Oxidised Nitrogen", "Total Nitrogen"], "range": ["stroke", "diamond", "square", "triangle-up"]}, "legend": {"title": null}},
               "size": {"field": "s", "type": "nominal", "scale": {"type": "ordinal", "domain": ["Discharge", "Ammonium", "Oxidised Nitrogen", "Total Nitrogen"], "range": [1156, 140, 100, 110]}, "legend": {"title": null}}
             }}
          ]
        },
        {"data": {"values": [{"n": "Sleeman River"}]}, "mark": {"type": "text", "fontSize": 18, "fontWeight": "bold", "baseline": "middle", "fill": "#111"}, "encoding": {"x": {"datum": 1995.661, "type": "quantitative"}, "y": {"datum": 0.854, "type": "quantitative", "scale": {"domain": [0, 1], "nice": false}, "axis": null}, "text": {"field": "n", "type": "nominal"}}}
      ],
      "resolve": {"scale": {"y": "independent"}}
    }
  ],
  "config": {
    "font": "Liberation Serif",
    "view": {"stroke": "#111", "strokeWidth": 2},
    "axis": {"grid": false, "domainColor": "#111", "domainWidth": 2, "labelFont": "Liberation Serif", "labelColor": "#111", "tickColor": "#111", "tickWidth": 1.5, "titleFont": "Liberation Serif", "titleFontWeight": "normal", "titleColor": "#111", "titleFontSize": 36, "labelOverlap": false},
    "axisBottom": {"labelAngle": -90, "labelFontSize": 14, "ticks": false, "labelPadding": 9},
    "axisLeft": {"labelFontSize": 16, "ticks": false, "labelPadding": 6, "titlePadding": 18},
    "axisRight": {"labelFontSize": 15, "tickSize": 4, "labelPadding": 4, "titlePadding": 16},
    "legend": {"labelFont": "Liberation Serif", "labelFontSize": 21, "labelColor": "#111", "strokeColor": "#111", "strokeWidth": 2, "padding": 6, "clipHeight": 22, "rowPadding": 2.5, "labelOffset": 16, "symbolStrokeWidth": 2}
  }
}
